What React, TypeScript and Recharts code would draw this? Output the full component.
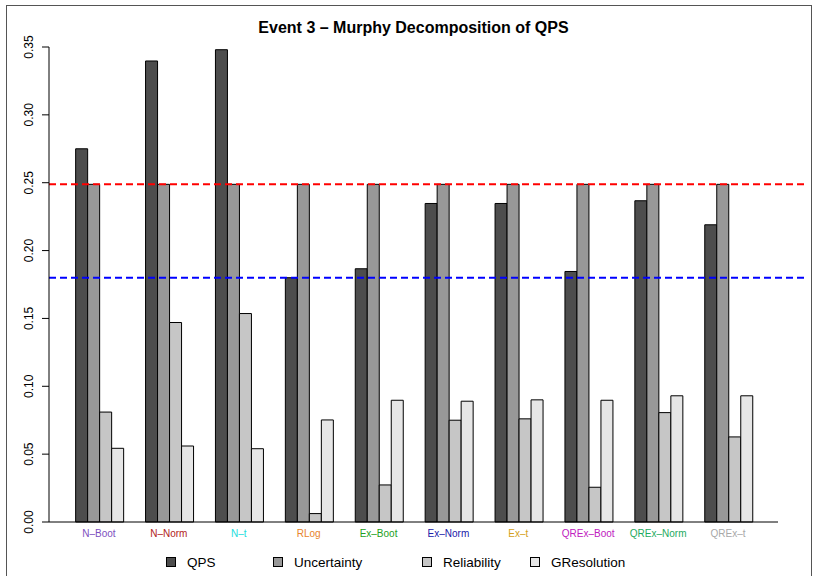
import { BarChart, Bar, XAxis, YAxis, Legend, ReferenceLine } from "recharts";

const FONT = '"Liberation Sans", Arial, Helvetica, sans-serif';

// methods compared (x categories) and the colour of each label
const methods = ["N–Boot", "N–Norm", "N–t", "RLog", "Ex–Boot", "Ex–Norm", "Ex–t", "QREx–Boot", "QREx–Norm", "QREx–t"];
const methodColors = ["#7E50C0", "#B22222", "#22DDDD", "#E8842A", "#22A022", "#2020A8", "#D4A020", "#C020C0", "#1EAA60", "#A8A8A8"];

// Murphy decomposition values
const qps = [0.275, 0.3397, 0.348, 0.180, 0.1866, 0.2347, 0.2347, 0.1846, 0.2367, 0.219];
const uncertainty = [0.2488, 0.2488, 0.2488, 0.2488, 0.2488, 0.2488, 0.2488, 0.2488, 0.2488, 0.2488];
const reliability = [0.081, 0.147, 0.1536, 0.0062, 0.0273, 0.075, 0.076, 0.0256, 0.0806, 0.0627];
const gresolution = [0.0543, 0.056, 0.054, 0.0752, 0.0897, 0.089, 0.090, 0.0897, 0.093, 0.093];

const seriesKeys = ["qps", "uncertainty", "reliability", "gresolution"];
const seriesNames = ["QPS", "Uncertainty", "Reliability", "GResolution"];
const seriesFills = ["#4D4D4D", "#989898", "#C6C6C6", "#E6E6E6"];

const yTicks = [0, 0.05, 0.1, 0.15, 0.2, 0.25, 0.3, 0.35];
const refRed = 0.2488;
const refBlue = 0.18;

const data = methods.map((method, i) => ({
  method,
  qps: qps[i],
  uncertainty: uncertainty[i],
  reliability: reliability[i],
  gresolution: gresolution[i],
}));

function MethodTick({ x, y, payload }: any) {
  return (
    <text x={x} y={y} dy="0.71em" textAnchor="middle" fontSize={10} fontFamily={FONT} fill={methodColors[payload.index]}>
      {payload.value}
    </text>
  );
}

function ValueTick({ x, y, payload }: any) {
  return (
    <text x={x} y={y} transform={`rotate(-90 ${x} ${y})`} textAnchor="middle" fontSize={12} fontFamily={FONT} fill="#000">
      {Number(payload.value).toFixed(2)}
    </text>
  );
}

function LegendRow() {
  const widths = [107, 149, 108, 110];
  return (
    <div style={{ display: "flex", alignItems: "center", height: 20, paddingLeft: 166, fontFamily: FONT, fontSize: 13.5, color: "#000" }}>
      {seriesNames.map((n, i) => (
        <div key={n} style={{ width: widths[i], display: "flex", alignItems: "center" }}>
          <span style={{ width: 10, height: 10, boxSizing: "border-box", border: "1px solid #000", background: seriesFills[i], marginRight: 11, display: "inline-block" }} />
          {n}
        </div>
      ))}
    </div>
  );
}

// dashed line that runs a bit past the right edge of the box, like abline in R
const dashed = (color: string) => (p: any) =>
  <line x1={p.x1} y1={p.y1} x2={p.x2 + 30} y2={p.y2} stroke={color} strokeWidth={2} strokeDasharray="7 4" />;

export default function App() {
  return (
    <div style={{ position: "absolute", left: 0, top: 0, width: 815, height: 576, overflow: "hidden", background: "#fff" }}>
      <div style={{ position: "absolute", left: 6, top: 5, width: 806, height: 600, border: "1px solid #555", boxSizing: "border-box" }} />
      <div style={{ position: "absolute", left: 49, width: 729, top: 19, textAlign: "center", fontFamily: FONT, fontWeight: "bold", fontSize: 16 }}>
        Event 3 – Murphy Decomposition of QPS
      </div>
      <BarChart width={815} height={576} data={data} margin={{ top: 47, right: 37, left: 0, bottom: 4 }} barGap={0} barCategoryGap="16.67%">
        <XAxis dataKey="method" height={30} padding={{ left: 15, right: 15 }} tickLine={false} axisLine={{ stroke: "#000" }} tick={<MethodTick />} interval={0} />
        <XAxis xAxisId="top" dataKey="method" orientation="top" height={0} tick={false} tickLine={false} axisLine={{ stroke: "#000" }} />
        <YAxis type="number" domain={[0, 0.35]} ticks={yTicks} width={49} tickSize={7} tickMargin={9} tickLine={{ stroke: "#000" }} axisLine={{ stroke: "#000" }} tick={<ValueTick />} interval={0} />
        <YAxis yAxisId="right" orientation="right" domain={[0, 0.35]} width={0} tick={false} tickLine={false} axisLine={{ stroke: "#000" }} />
        {seriesKeys.map((k, i) => (
          <Bar key={k} dataKey={k} name={seriesNames[i]} fill={seriesFills[i]} stroke="#000" strokeWidth={1} isAnimationActive={false} />
        ))}
        <ReferenceLine y={refRed} shape={dashed("#FF0000")} />
        <ReferenceLine y={refBlue} shape={dashed("#0000FF")} />
        <Legend verticalAlign="bottom" content={<LegendRow />} wrapperStyle={{ left: 0, width: 815, height: 20 }} />
      </BarChart>
    </div>
  );
}
